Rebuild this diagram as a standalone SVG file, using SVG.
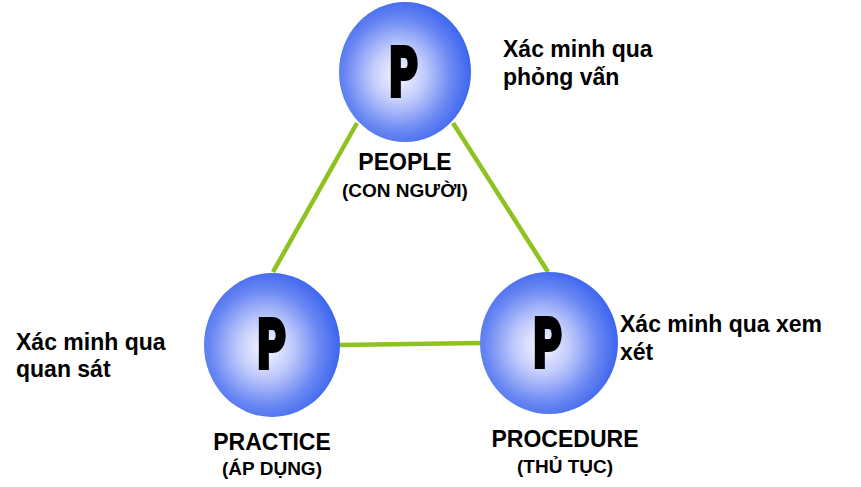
<svg xmlns="http://www.w3.org/2000/svg" width="861" height="487" viewBox="0 0 861 487">
<defs>
<radialGradient id="ball" cx="0.45" cy="0.52" r="0.56">
<stop offset="0" stop-color="#F8F8FF"/>
<stop offset="0.35" stop-color="#C2CCFB"/>
<stop offset="0.72" stop-color="#6A88F3"/>
<stop offset="1" stop-color="#3A63EE"/>
</radialGradient>
<style>
.ball{fill:url(#ball);}
.p{font-family:Roboto,"Liberation Sans",Arial,sans-serif;font-weight:900;font-size:68px;fill:#000;stroke:#000;stroke-width:4;stroke-linejoin:miter;text-anchor:middle;}
.lbl{font-family:"Liberation Sans",Arial,sans-serif;font-weight:bold;font-size:23px;fill:#000;text-anchor:middle;}
.sub{font-family:"Liberation Sans",Arial,sans-serif;font-weight:bold;font-size:19px;fill:#000;text-anchor:middle;}
.note{font-family:"Liberation Sans",Arial,sans-serif;font-weight:bold;font-size:23px;fill:#000;}
.edge{stroke:#8DC21F;stroke-width:4.5;fill:none;}
</style>
</defs>
<rect width="861" height="487" fill="#fff"/>
<g id="connectors">
<line class="edge" x1="357" y1="123" x2="273" y2="272"/>
<line class="edge" x1="453" y1="123" x2="548" y2="272"/>
<line class="edge" x1="340" y1="345" x2="480" y2="343"/>
</g>
<g id="people">
<ellipse class="ball" cx="405" cy="72" rx="66" ry="70"/>
<text class="p" transform="translate(404,96) scale(0.64,1)">P</text>
<text class="lbl" x="405" y="170">PEOPLE</text>
<text class="sub" x="405" y="197">(CON NGƯỜI)</text>
</g>
<g id="practice">
<ellipse class="ball" cx="272" cy="345" rx="68" ry="72"/>
<text class="p" transform="translate(272,368) scale(0.64,1)">P</text>
<text class="lbl" x="272" y="450">PRACTICE</text>
<text class="sub" x="272" y="475">(ÁP DỤNG)</text>
</g>
<g id="procedure">
<ellipse class="ball" cx="549" cy="343" rx="69" ry="71"/>
<text class="p" transform="translate(548,367) scale(0.64,1)">P</text>
<text class="lbl" x="565" y="447">PROCEDURE</text>
<text class="sub" x="565" y="473">(THỦ TỤC)</text>
</g>
<g id="notes">
<text class="note" x="503" y="57">Xác minh qua</text>
<text class="note" x="503" y="85">phỏng vấn</text>
<text class="note" x="16" y="350">Xác minh qua</text>
<text class="note" x="16" y="377">quan sát</text>
<text class="note" x="620" y="332">Xác minh qua xem</text>
<text class="note" x="620" y="360">xét</text>
</g>
</svg>
